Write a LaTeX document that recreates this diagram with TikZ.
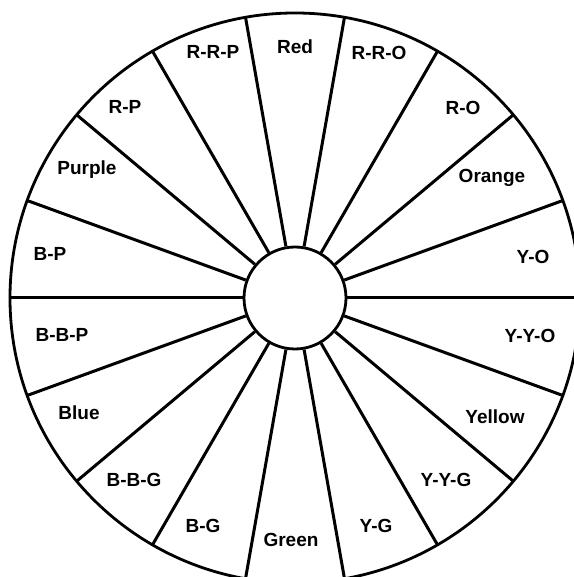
\documentclass[tikz,border=0pt]{standalone}
\usepackage{fontspec}
\setmainfont{Liberation Sans}
\usepackage{tikz}
\usetikzlibrary{positioning}

\begin{document}
\begin{tikzpicture}[
    x=1pt,y=1pt,
    hub/.style = {circle,draw=black,line width=2.8pt,fill=white,minimum size=102pt,inner sep=0pt},
    spoke/.style = {black,line width=3pt},
    rim/.style = {black,line width=2.8pt},
    lab/.style = {font=\fontsize{19}{20}\selectfont\bfseries,text=black,inner sep=0pt},
  ]
  \useasboundingbox (-295,-279) rectangle (278,298);

  % Roue et rayons
  \draw[rim] (0,0) circle (285pt);
  \node[hub] (hub) at (0,0) {};
  \foreach \a in {0,20,...,340}
    \draw[spoke] (hub.\a) -- (\a:285);

  % Secteurs, en partant du haut
  \node[lab] (red)    at (0,251)     {Red};
  \node[lab] (rro)    at (84,245)    {R-R-O};
  \node[lab] (ro)     at (168,190)   {R-O};
  \node[lab] (orange) at (197,120)   {Orange};
  \node[lab] (yo)     at (238,41)    {Y-O};
  \node[lab] (yyo)    at (235,-38)   {Y-Y-O};
  \node[lab] (yellow) at (200,-119)  {Yellow};
  \node[lab] (yyg)    at (151,-182)  {Y-Y-G};
  \node[lab] (yg)     at (81,-228)   {Y-G};
  \node[lab] (green)  at (-4,-242)   {Green};
  \node[lab] (bg)     at (-92,-228)  {B-G};
  \node[lab] (bbg)    at (-161,-182) {B-B-G};
  \node[lab] (blue)   at (-216,-115) {Blue};
  \node[lab] (bbp)    at (-233,-37)  {B-B-P};
  \node[lab] (bp)     at (-245,44)   {B-P};
  \node[lab] (purple) at (-208,128)  {Purple};
  \node[lab] (rp)     at (-170,191)  {R-P};
  \node[lab] (rrp)    at (-82,246)   {R-R-P};

\end{tikzpicture}
\end{document}
